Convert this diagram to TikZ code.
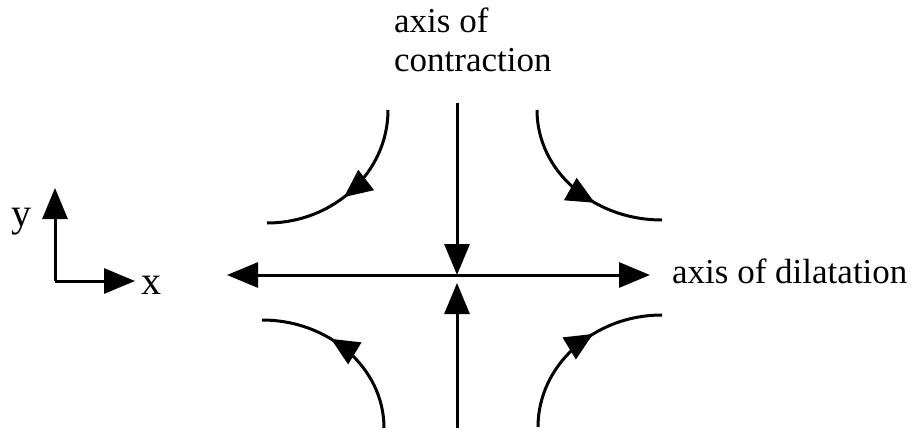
\documentclass[tikz,border=0pt]{standalone}
\usepackage{fontspec}
\setmainfont{Liberation Serif}
\usetikzlibrary{arrows.meta,decorations.markings}
\begin{document}
\begin{tikzpicture}[x=1pt,y=-1pt,
  line/.style={line width=3pt},
  tip/.style={-{Triangle[length=31pt,width=25pt]}},
  bitip/.style={{Triangle[length=31pt,width=25pt]}-{Triangle[length=31pt,width=25pt]}},
  lbl/.style={font=\fontsize{35}{39}\selectfont, inner sep=0pt, anchor=base west},
  axlbl/.style={font=\fontsize{40}{44}\selectfont, inner sep=0pt, anchor=base west},
  flow/.style={line width=3pt, postaction={decorate},
    decoration={markings, mark=at position #1 with {\arrow{Triangle[length=28pt,width=25pt]}}}}
]
\useasboundingbox (0,0) rectangle (913,433);

% labels
\node[lbl] (ax1) at (394,33) {axis of};
\node[lbl] (ax2) at (394,72) {contraction};
\node[lbl] (dil) at (672,283) {axis of dilatation};
\node[axlbl] (ylab) at (11,226) {y};
\node[axlbl] (xlab) at (141,294) {x};

% main axes
\coordinate (L) at (227,275);
\coordinate (R) at (650,275);
\draw[line,bitip] (L) -- (R);
\coordinate (T0) at (457,103);
\coordinate (T1) at (457,275);
\draw[line,tip] (T0) -- (T1);
\coordinate (B0) at (457,428);
\coordinate (B1) at (457,283);
\draw[line,tip] (B0) -- (B1);

% small coordinate axes
\coordinate (O) at (55,281);
\coordinate (X) at (135,281);
\coordinate (Y) at (55,188);
\draw[line,tip] (O) -- (X);
\draw[line,tip] (O) -- (Y);

% flow curves
\coordinate (tlA) at (388,110); \coordinate (tlB) at (267,223);
\draw[flow=0.55] (tlA) .. controls (388,172) and (334,223) .. (tlB);
\coordinate (trA) at (537,110); \coordinate (trB) at (662,220);
\draw[flow=0.62] (trA) .. controls (537,171) and (593,220) .. (trB);
\coordinate (blA) at (384,428); \coordinate (blB) at (262,320);
\draw[flow=0.6] (blA) .. controls (384,368) and (329,320) .. (blB);
\coordinate (brA) at (538,427); \coordinate (brB) at (662,315);
\draw[flow=0.61] (brA) .. controls (538,365) and (594,315) .. (brB);
\end{tikzpicture}
\end{document}
